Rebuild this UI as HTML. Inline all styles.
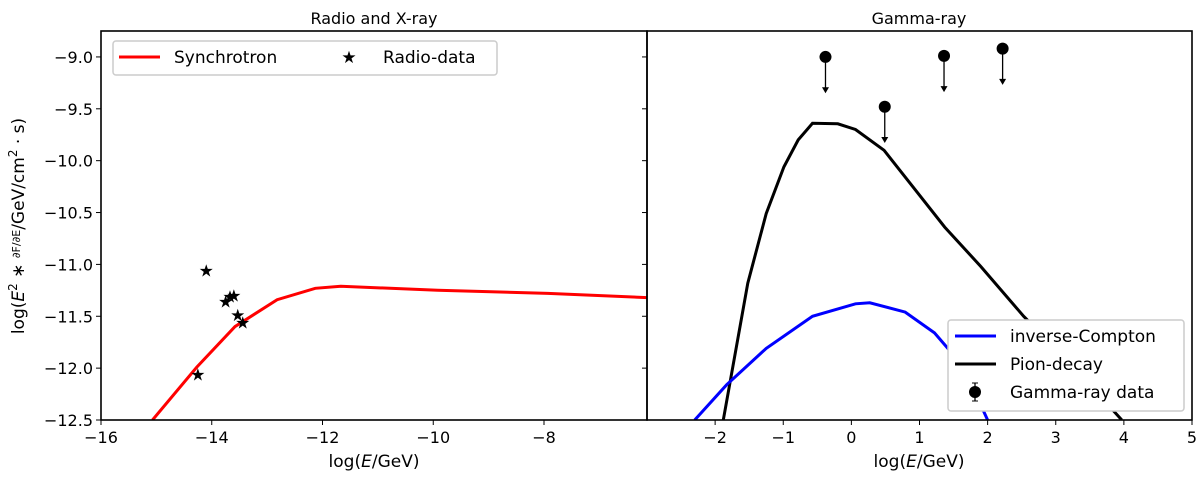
<!DOCTYPE html>
<html><head><meta charset="utf-8"><style>
body{margin:0;background:#fff}
svg{display:block;font-family:"DejaVu Sans","Liberation Sans",sans-serif}
</style></head><body>
<svg id="chart" width="1200" height="477" viewBox="0 0 1200 477" xmlns="http://www.w3.org/2000/svg">
<rect width="1200" height="477" fill="#fff"/>
<g id="g"></g>
</svg>
<script>
const yTicks=[-9.0,-9.5,-10.0,-10.5,-11.0,-11.5,-12.0,-12.5];
const leftXTicks=[-16,-14,-12,-10,-8];
const rightXTicks=[-2,-1,0,1,2,3,4,5];
const syncX=[-15.07,-14.27,-13.58,-12.82,-12.13,-11.67,-9.92,-7.93,-6.14];
const syncY=[-12.5,-11.99,-11.60,-11.34,-11.23,-11.21,-11.25,-11.28,-11.32];
const radioX=[-14.10,-13.75,-13.67,-13.60,-13.53,-13.44,-14.25];
const radioY=[-11.06,-11.36,-11.31,-11.30,-11.49,-11.56,-12.06];
const pionX=[-1.88,-1.52,-1.25,-0.99,-0.78,-0.57,-0.20,0.06,0.48,0.90,1.37,1.90,2.53,3.21,3.97];
const pionY=[-12.5,-11.18,-10.51,-10.06,-9.80,-9.64,-9.645,-9.70,-9.90,-10.25,-10.64,-11.02,-11.50,-11.95,-12.5];
const icX=[-2.30,-1.83,-1.25,-0.57,0.06,0.27,0.79,1.22,1.64,2.0];
const icY=[-12.5,-12.16,-11.81,-11.50,-11.38,-11.37,-11.46,-11.66,-11.98,-12.5];
const gammaX=[-0.38,0.49,1.36,2.22];
const gammaY=[-9.0,-9.48,-8.99,-8.92];
const ulLen=0.34;

const NS="http://www.w3.org/2000/svg";
const g=document.getElementById('g');
function el(t,a,txt){const e=document.createElementNS(NS,t);for(const k in a)e.setAttribute(k,a[k]);if(txt!==undefined)e.textContent=txt;g.appendChild(e);return e;}
const T=31,B=420,yMin=-12.5,yMax=-8.75;
const sy=v=>B-(v-yMin)/(yMax-yMin)*(B-T);
const L1=101,R1=647,lx0=-16,lx1=-6.14;
const sxL=v=>L1+(v-lx0)/(lx1-lx0)*(R1-L1);
const L2=647,R2=1192,rx0=-3.0,rx1=5;
const sxR=v=>L2+(v-rx0)/(rx1-rx0)*(R2-L2);
const path=(xs,ys,fx)=>xs.map((x,i)=>(i?'L':'M')+fx(x).toFixed(1)+','+sy(ys[i]).toFixed(1)).join('');

// clip paths
const defs=el('defs',{});
defs.innerHTML='<clipPath id="c1"><rect x="'+L1+'" y="'+T+'" width="'+(R1-L1)+'" height="'+(B-T)+'"/></clipPath><clipPath id="c2"><rect x="'+L2+'" y="'+T+'" width="'+(R2-L2)+'" height="'+(B-T)+'"/></clipPath>';

// y ticks
yTicks.forEach(v=>{
 let t=el('line',{x1:L1-5,x2:L1,y1:sy(v),y2:sy(v),stroke:'#000','stroke-width':1});
 
 el('line',{x1:R1-5,x2:R1,y1:sy(v),y2:sy(v),stroke:'#000','stroke-width':1});
 let l=el('text',{x:L1-8,y:sy(v)+6,'text-anchor':'end','font-size':16},(v.toFixed(1)).replace('-','−'));
 
});
leftXTicks.forEach(v=>{
 el('line',{x1:sxL(v),x2:sxL(v),y1:B,y2:B+5,stroke:'#000'});
 let l=el('text',{x:sxL(v),y:B+23,'text-anchor':'middle','font-size':16},String(v).replace('-','−'));
 
});
rightXTicks.forEach(v=>{
 el('line',{x1:sxR(v),x2:sxR(v),y1:B,y2:B+5,stroke:'#000'});
 let l=el('text',{x:sxR(v),y:B+23,'text-anchor':'middle','font-size':16},String(v).replace('-','−'));
 
});

// curves
let s=el('path',{d:path(syncX,syncY,sxL),fill:'none',stroke:'#f00','stroke-width':3,'clip-path':'url(#c1)'});

radioX.forEach((x,i)=>{
 let st=el('text',{x:sxL(x),y:sy(radioY[i])+6,'text-anchor':'middle','font-size':17},'★');
 
});
let p=el('path',{d:path(pionX,pionY,sxR),fill:'none',stroke:'#000','stroke-width':3,'clip-path':'url(#c2)'});

let ic=el('path',{d:path(icX,icY,sxR),fill:'none',stroke:'#00f','stroke-width':3,'clip-path':'url(#c2)'});

gammaX.forEach((x,i)=>{
 const cx=sxR(x),cy=sy(gammaY[i]),ey=sy(gammaY[i]-ulLen);
 el('line',{x1:cx,x2:cx,y1:cy,y2:ey-4,stroke:'#000','stroke-width':1.3});
 el('path',{d:`M${cx-3.5},${ey-5}L${cx+3.5},${ey-5}L${cx},${ey+1}Z`,fill:'#000'});
 let c=el('circle',{cx:cx,cy:cy,r:6,fill:'#000'});
 
});

// frames
let f1=el('rect',{x:L1,y:T,width:R1-L1,height:B-T,fill:'none',stroke:'#000','stroke-width':1.6});

let f2=el('rect',{x:L2,y:T,width:R2-L2,height:B-T,fill:'none',stroke:'#000','stroke-width':1.6});


// legends
let lg=el('rect',{x:113,y:41,width:384,height:34,rx:3,fill:'#fff',stroke:'#ccc','stroke-width':1.5});

el('line',{x1:119,x2:160,y1:57,y2:57,stroke:'#f00','stroke-width':3});
el('text',{x:174,y:63,'font-size':17},'Synchrotron');
el('text',{x:349,y:63,'text-anchor':'middle','font-size':17},'★');
el('text',{x:383,y:63,'font-size':17},'Radio-data');
let rg=el('rect',{x:948,y:320,width:236,height:91,rx:3,fill:'#fff',stroke:'#ccc','stroke-width':1.5});

el('line',{x1:955,x2:996,y1:336,y2:336,stroke:'#00f','stroke-width':3});
el('text',{x:1010,y:342,'font-size':17},'inverse-Compton');
el('line',{x1:955,x2:996,y1:364,y2:364,stroke:'#000','stroke-width':3});
el('text',{x:1010,y:370,'font-size':17},'Pion-decay');
el('line',{x1:975,x2:975,y1:383,y2:401,stroke:'#000','stroke-width':1.3});
el('line',{x1:972,x2:978,y1:383,y2:383,stroke:'#000'});el('line',{x1:972,x2:978,y1:401,y2:401,stroke:'#000'});
el('circle',{cx:975,cy:392,r:6,fill:'#000'});
el('text',{x:1010,y:398,'font-size':17},'Gamma-ray data');

// titles
let t1=el('text',{x:374,y:24,'text-anchor':'middle','font-size':16},'Radio and X-ray');

let t2=el('text',{x:919,y:24,'text-anchor':'middle','font-size':16},'Gamma-ray');

let xl1=el('text',{x:374,y:467,'text-anchor':'middle','font-size':17});
xl1.innerHTML='log(<tspan font-style="italic">E</tspan>/GeV)';

let xl2=el('text',{x:919,y:467,'text-anchor':'middle','font-size':17});
xl2.innerHTML='log(<tspan font-style="italic">E</tspan>/GeV)';

let yl=el('text',{transform:'translate(24,226) rotate(-90)','text-anchor':'middle','font-size':17});
yl.innerHTML='log(<tspan font-style="italic">E</tspan><tspan dy="-7" font-size="12">2</tspan><tspan dy="7"> ∗ </tspan><tspan font-size="11" dy="-4">∂F/∂E</tspan><tspan dy="4">/GeV/cm</tspan><tspan dy="-7" font-size="12">2</tspan><tspan dy="7"> · s)</tspan>';

</script>
</body></html>
